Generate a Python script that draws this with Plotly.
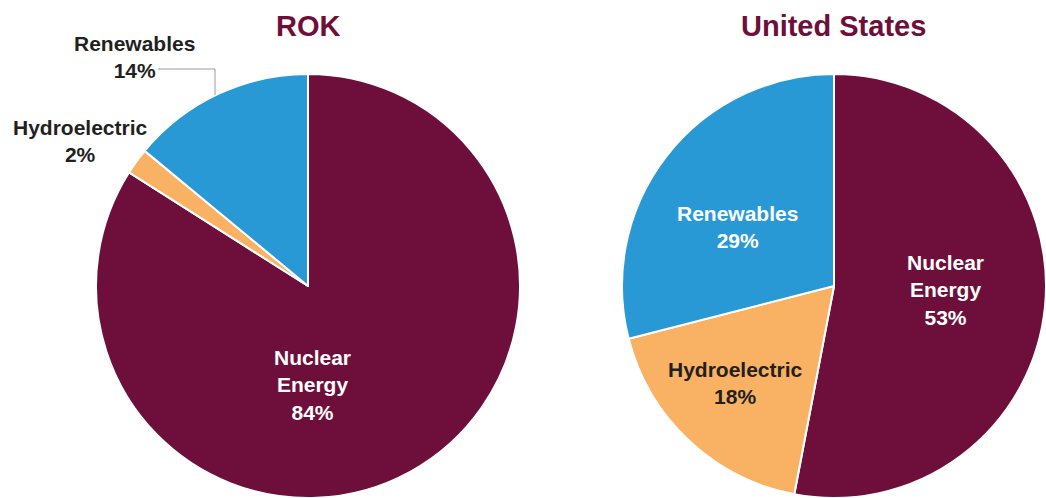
import plotly.graph_objects as go

W, H = 1046, 498

# Data
sources = ["Nuclear Energy", "Hydroelectric", "Renewables"]
rok_share = [84, 2, 14]
us_share = [53, 18, 29]

colors = ["#6D0F3A", "#F9B264", "#2899D5"]
title_color = "#6D0F3A"
dark = "#231F20"
font_family = "Liberation Sans, Arial, sans-serif"


def px_x(x):
    return x / W


def px_y(y):
    return 1 - y / H


def label_lines(name, value):
    # "Nuclear Energy" is split over two lines in the original
    return name.replace(" ", "<br>") + f"<br>{value}%"


fig = go.Figure()

for share, dom in [(rok_share, [95, 521]), (us_share, [622, 1046])]:
    fig.add_trace(
        go.Pie(
            labels=sources,
            values=share,
            sort=False,
            direction="clockwise",
            rotation=0,
            marker=dict(colors=colors, line=dict(color="white", width=2)),
            textinfo="none",
            hoverinfo="label+percent",
            showlegend=False,
            domain=dict(x=[px_x(dom[0]), px_x(dom[1])], y=[0, px_y(74)]),
        )
    )

annotations = []


def add_label(text, x, y, color):
    annotations.append(
        dict(
            text=text,
            x=px_x(x),
            y=px_y(y),
            xref="paper",
            yref="paper",
            showarrow=False,
            font=dict(size=21, color=color, family=font_family, weight="bold"),
            align="center",
            xanchor="center",
            yanchor="middle",
        )
    )


# Titles
for title, x in [("ROK", 308), ("United States", 833)]:
    annotations.append(
        dict(
            text=title,
            x=px_x(x),
            y=px_y(26),
            xref="paper",
            yref="paper",
            showarrow=False,
            font=dict(size=29, color=title_color, family=font_family, weight="bold"),
            xanchor="center",
            yanchor="middle",
        )
    )

# ROK labels
add_label(label_lines(sources[0], rok_share[0]), 312, 385, "white")
add_label(f"{sources[1]}<br>{rok_share[1]}%", 80, 141, dark)
add_label(f"{sources[2]}<br>{rok_share[2]}%", 134, 57, dark)

# US labels
add_label(label_lines(sources[0], us_share[0]), 945, 290, "white")
add_label(f"{sources[1]}<br>{us_share[1]}%", 735, 383, dark)
add_label(f"{sources[2]}<br>{us_share[2]}%", 737, 227, "white")

# Leader line for ROK renewables
fig.add_shape(
    type="path",
    path=f"M {px_x(158)} {px_y(69)} L {px_x(215)} {px_y(69)} L {px_x(215)} {px_y(95)}",
    xref="paper",
    yref="paper",
    line=dict(color="#9A9A9A", width=1),
)

fig.update_layout(
    width=W,
    height=H,
    margin=dict(l=0, r=0, t=0, b=0),
    paper_bgcolor="white",
    plot_bgcolor="white",
    annotations=annotations,
    font=dict(family=font_family),
)

fig.write_html(
    "out.html",
    config={"displayModeBar": False},
    post_script="document.body.style.margin='0px';document.body.style.overflow='hidden';",
)
